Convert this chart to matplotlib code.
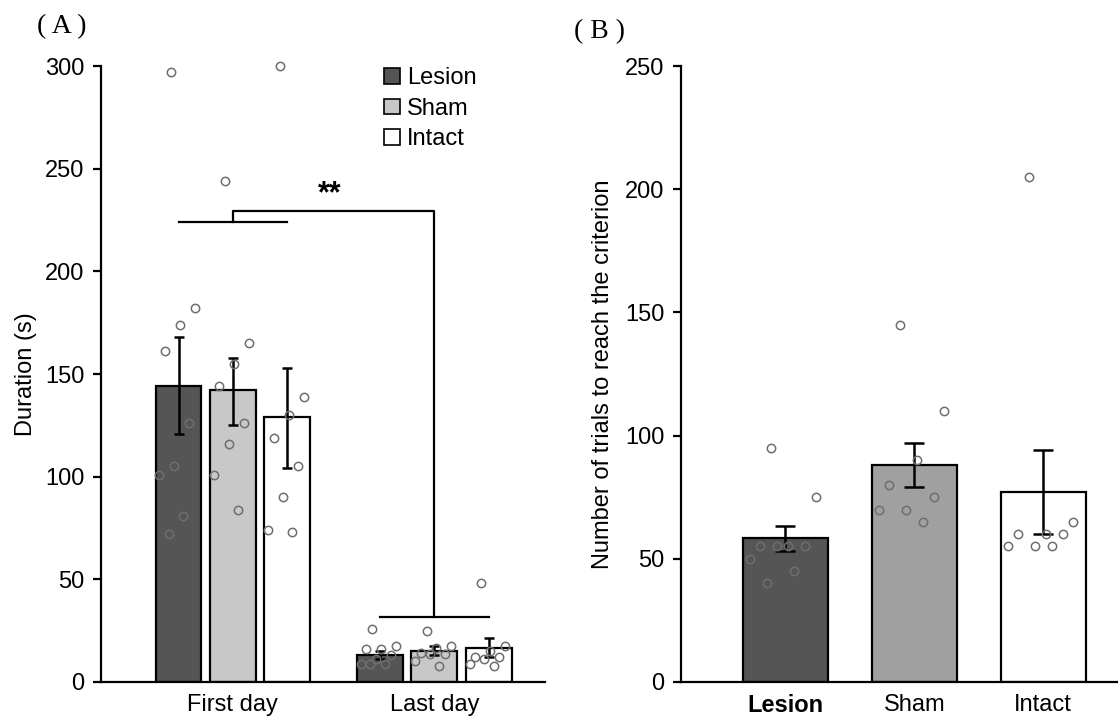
import numpy as np
import matplotlib.pyplot as plt
from matplotlib.patches import Patch

## Data
groups = ['Lesion', 'Sham', 'Intact']
days = ['First day', 'Last day']

## Panel A: duration (s), mean and SEM limits per day x group
dur_mean = [[144, 142, 129], [13, 15, 16.5]]
dur_err_hi = [[168, 158, 153], [15, 17.5, 21.5]]
dur_err_lo = [[121, 125, 104], [11, 13, 12]]

dur_first_lesion = [297, 182, 174, 161, 126, 105, 101, 81, 72]
dur_first_sham = [244, 165, 155, 144, 126, 116, 101, 84]
dur_first_intact = [300, 139, 130, 119, 105, 90, 74, 73]
dur_last_lesion = [26, 17.5, 16, 16, 13, 11, 9, 9, 9]
dur_last_sham = [25, 17.5, 16.5, 14, 13.5, 13.5, 10, 8]
dur_last_intact = [48, 17.5, 15, 12, 12, 11, 9, 8]

## Panel B: number of trials to reach the criterion
trials_mean = [58.5, 88, 77]
trials_err_hi = [63.5, 97, 94]
trials_err_lo = [53, 79, 60]
trials_lesion = [95, 75, 55, 55, 55, 55, 50, 45, 40]
trials_sham = [145, 110, 90, 80, 75, 70, 70, 65]
trials_intact = [205, 65, 60, 60, 60, 55, 55, 55]

## Styles
colors_a = ['#555555', '#c8c8c8', '#ffffff']
colors_b = ['#555555', '#a0a0a0', '#ffffff']
plt.rcParams['font.family'] = ['Liberation Sans', 'DejaVu Sans']
plt.rcParams['font.size'] = 17


def jitter(n, width) :
    ## deterministic spread of points over the bar width
    k = np.arange(n)
    return (((k * 0.618 + 0.3) % 1.0) - 0.5) * width * 0.85


def style_axes(ax) :
    for side in ['top', 'right'] :
        ax.spines[side].set_visible(False)
    for side in ['left', 'bottom'] :
        ax.spines[side].set_linewidth(1.6)
    ax.tick_params(axis='y', length=6, width=1.6, pad=6)
    ax.tick_params(axis='x', length=0, pad=9)


fig = plt.figure(figsize=(11.18, 7.27), dpi=100)

## ---------------- Panel A ----------------
axa = fig.add_axes([0.0903, 0.0619, 0.397, 0.8473])
width = 0.228
offs = [-0.27, 0.0, 0.27]
points_a = [[dur_first_lesion, dur_first_sham, dur_first_intact],
            [dur_last_lesion, dur_last_sham, dur_last_intact]]
for d in range(len(days)) :
    for g in range(len(groups)) :
        xc = d + offs[g]
        axa.bar(xc, dur_mean[d][g], width=width, color=colors_a[g],
                edgecolor='black', linewidth=1.6, zorder=2)
        m = dur_mean[d][g]
        axa.errorbar(xc, m, yerr=[[m - dur_err_lo[d][g]], [dur_err_hi[d][g] - m]],
                     fmt='none', ecolor='black', elinewidth=1.8, capsize=3.5,
                     capthick=1.8, zorder=3)
        pts = points_a[d][g]
        axa.plot(xc + jitter(len(pts), width), pts, 'o', markersize=6,
                 markerfacecolor='none', markeredgecolor='#6e6e6e',
                 markeredgewidth=1.1, zorder=4, clip_on=False)

## significance bracket
y_first, y_top, y_last = 224, 229.5, 31.5
axa.plot([offs[0], offs[2]], [y_first, y_first], color='black', lw=1.6)
axa.plot([0, 0, 1, 1], [y_first, y_top, y_top, y_last], color='black', lw=1.6)
axa.plot([1 + offs[0], 1 + offs[2]], [y_last, y_last], color='black', lw=1.6)
axa.text(0.48, y_top + 0.5, '**', ha='center', va='bottom', fontsize=22,
         fontweight='bold')

axa.set_xlim(-0.655, 1.548)
axa.set_ylim(0, 300)
axa.set_yticks([0, 50, 100, 150, 200, 250, 300])
axa.set_xticks([0, 1])
axa.set_xticklabels(days)
axa.set_ylabel('Duration (s)', labelpad=6)
style_axes(axa)

handles = [Patch(facecolor=c, edgecolor='black', linewidth=1.2) for c in colors_a]
axa.legend(handles, groups, loc='upper left', bbox_to_anchor=(0.617, 1.013),
           frameon=False, handlelength=0.65, handleheight=0.65,
           handletextpad=0.3, labelspacing=0.35, borderaxespad=0)

## ---------------- Panel B ----------------
axb = fig.add_axes([0.609, 0.0619, 0.391, 0.8473])
points_b = [trials_lesion, trials_sham, trials_intact]
width_b = 0.66
x = np.arange(len(groups))
axb.bar(x, trials_mean, width=width_b, color=colors_b, edgecolor='black',
        linewidth=1.6, zorder=2)
m = np.array(trials_mean)
axb.errorbar(x, m, yerr=[m - np.array(trials_err_lo), np.array(trials_err_hi) - m],
             fmt='none', ecolor='black', elinewidth=1.8, capsize=7, capthick=1.8,
             zorder=3)
for g in range(len(groups)) :
    pts = points_b[g]
    axb.plot(x[g] + jitter(len(pts), width_b), pts, 'o', markersize=6,
             markerfacecolor='none', markeredgecolor='#6e6e6e',
             markeredgewidth=1.1, zorder=4, clip_on=False)

axb.set_xlim(-0.81, 2.58)
axb.set_ylim(0, 250)
axb.set_yticks([0, 50, 100, 150, 200, 250])
axb.set_xticks(x)
axb.set_xticklabels(groups)
axb.get_xticklabels()[0].set_fontweight('bold')
axb.set_ylabel('Number of trials to reach the criterion', labelpad=8)
style_axes(axb)

## panel labels
fig.text(0.055, 0.963, '( A )', family=['Liberation Serif', 'DejaVu Serif'],
         fontsize=20, ha='center', va='center')
fig.text(0.536, 0.956, '( B )', family=['Liberation Serif', 'DejaVu Serif'],
         fontsize=20, ha='center', va='center')

fig.savefig('out.png', dpi=100)
